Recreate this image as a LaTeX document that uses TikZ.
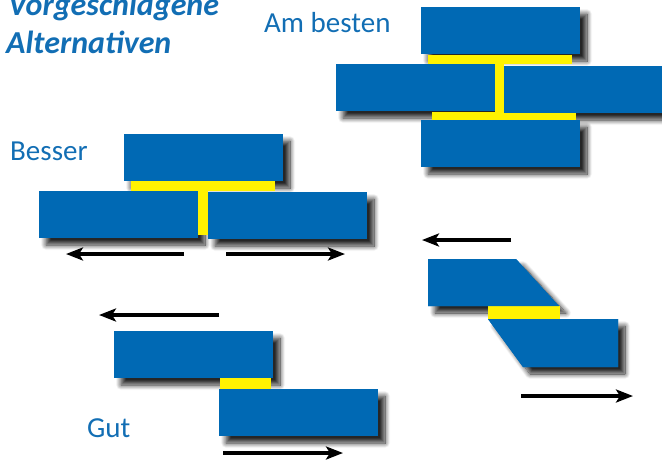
\documentclass[tikz,border=0pt]{standalone}
\usepackage{fontspec}
\setmainfont{Carlito}
\usetikzlibrary{arrows.meta,shadows.blur}
\definecolor{brick}{RGB}{0,105,180}
\definecolor{mortar}{RGB}{255,242,0}
\definecolor{txtblue}{RGB}{18,110,180}
\tikzset{
  brickfill/.style={fill=brick, blur shadow={shadow xshift=7pt, shadow yshift=-7pt, shadow blur radius=5pt, shadow opacity=85, shadow blur steps=12}},
  brickplain/.style={fill=brick},
  mortarfill/.style={fill=mortar},
  motion/.style={line width=3.2pt, -{Stealth[length=17pt,width=13pt,inset=4pt]}},
  lbl/.style={anchor=base west, inner sep=0pt, text=txtblue, font=\fontsize{29}{34}\selectfont},
  ttl/.style={anchor=base west, inner sep=0pt, text=txtblue, font=\fontsize{32}{38}\selectfont\bfseries\itshape}
}
\begin{document}
\begin{tikzpicture}[x=1pt,y=-1pt]
\useasboundingbox (0,0) rectangle (662,459);
% titles
\node[ttl] (t1) at (8,15) {Vorgeschlagene};
\node[ttl] (t2) at (6,53) {Alternativen};
\node[lbl] (l1) at (264,32) {Am besten};
\node[lbl] (l2) at (10,160) {Besser};
\node[lbl] (l3) at (87,437) {Gut};
% ---- Am besten
\fill[brickfill] (421,7) rectangle (580,54);
\fill[brickfill] (336,64) rectangle (495,111);
\fill[brickfill] (504,66) rectangle (663,113);
\fill[brickfill] (421,120) rectangle (580,167);
\fill[mortarfill] (428,55) rectangle (572,64);
\fill[mortarfill] (432,112) rectangle (576,120);
\fill[mortarfill] (495,64) rectangle (504,112);
\fill[brickplain] (421,7) rectangle (580,54);
\fill[brickplain] (336,64) rectangle (495,111);
\fill[brickplain] (504,66) rectangle (663,113);
\fill[brickplain] (421,120) rectangle (580,167);
% ---- Besser
\fill[brickfill] (124,134) rectangle (283,181);
\fill[brickfill] (39,191) rectangle (198,238);
\fill[brickfill] (208,192) rectangle (367,239);
\fill[mortarfill] (131,181) rectangle (275,191);
\fill[mortarfill] (198,191) rectangle (208,235);
\fill[brickplain] (124,134) rectangle (283,181);
\fill[brickplain] (39,191) rectangle (198,238);
\fill[brickplain] (208,192) rectangle (367,239);
\coordinate (b1s) at (184,254); \coordinate (b1e) at (66,254);
\coordinate (b2s) at (226,254); \coordinate (b2e) at (345,254);
\draw[motion] (b1s) -- (b1e);
\draw[motion] (b2s) -- (b2e);
% ---- right slanted
\coordinate (r1s) at (511,240); \coordinate (r1e) at (422,240);
\draw[motion] (r1s) -- (r1e);
\fill[brickfill] (428,259) -- (516,259) -- (559,306) -- (428,306) -- cycle;
\fill[brickfill] (488,319) -- (618,319) -- (618,367) -- (523,367) -- cycle;
\fill[mortarfill] (488,306) rectangle (560,319);
\fill[brickplain] (428,259) -- (516,259) -- (559,306) -- (428,306) -- cycle;
\fill[brickplain] (488,319) -- (618,319) -- (618,367) -- (523,367) -- cycle;
\coordinate (r2s) at (521,396); \coordinate (r2e) at (633,396);
\draw[motion] (r2s) -- (r2e);
% ---- Gut
\coordinate (g1s) at (219,315); \coordinate (g1e) at (99,315);
\draw[motion] (g1s) -- (g1e);
\fill[brickfill] (114,331) rectangle (273,378);
\fill[brickfill] (219,389) rectangle (378,436);
\fill[mortarfill] (220,378) rectangle (271,389);
\fill[brickplain] (114,331) rectangle (273,378);
\fill[brickplain] (219,389) rectangle (378,436);
\coordinate (g2s) at (223,453); \coordinate (g2e) at (343,453);
\draw[motion] (g2s) -- (g2e);
\end{tikzpicture}
\end{document}
